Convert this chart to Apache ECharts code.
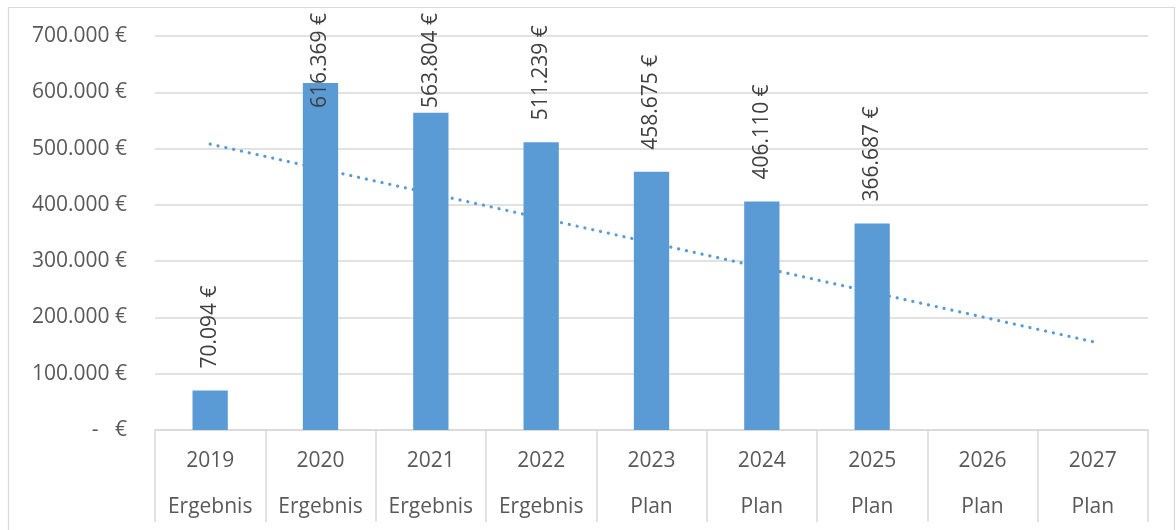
<!DOCTYPE html>
<html><head><meta charset="utf-8">
<script src="https://cdn.jsdelivr.net/npm/echarts@6/dist/echarts.min.js"></script>
<style>html,body{margin:0;padding:0;background:#fff}#c{width:1176px;height:530px}</style>
</head><body><div id="c"></div>
<script>
// ---- data ----
const years = ['2019','2020','2021','2022','2023','2024','2025','2026','2027'];
const kinds = ['Ergebnis','Ergebnis','Ergebnis','Ergebnis','Plan','Plan','Plan','Plan','Plan'];
const values = [70094, 616369, 563804, 511239, 458675, 406110, 366687, null, null];
// dotted trend line: values read at its two ends (2019 and 2027)
const trendValues = [508000, null, null, null, null, null, null, null, 157000];
const yMin = 0, yMax = 700000, yStep = 100000;

const FONT = '"Open Sans", sans-serif';
const FS = 21;
function fmt(n) {
  if (n === 0) return '-   €';
  return String(Math.round(n)).replace(/\B(?=(\d{3})+(?!\d))/g, '.') + ' €';
}

const chart = echarts.init(document.getElementById('c'), null, {renderer: 'canvas'});
const GRID = {left: 155, right: 28, top: 36, bottom: 100};
const LABEL_GAP = 22, LABEL_TOP_LIMIT = 13;

function buildBars(distances) {
  return values.map((v, i) => v == null ? null : {
    value: v,
    label: {distance: distances ? distances[i] : LABEL_GAP}
  });
}

function makeOption(distances) {
  return {
    animation: false,
    backgroundColor: '#fff',
    textStyle: {fontFamily: FONT},
    graphic: [{
      type: 'rect', silent: true, z: -1,
      shape: {x: 8.5, y: 7.5, width: 1166, height: 540},
      style: {fill: 'none', stroke: '#D9D9D9', lineWidth: 1.2}
    }],
    grid: GRID,
    xAxis: {
      type: 'category',
      data: years,
      boundaryGap: true,
      axisLine: {show: true, lineStyle: {color: '#D9D9D9', width: 1.5}},
      axisTick: {show: true, length: 92, lineStyle: {color: '#D9D9D9', width: 1.5}},
      axisLabel: {
        margin: 8, interval: 0,
        color: '#595959', fontFamily: FONT, fontSize: FS, lineHeight: 46,
        formatter: (val, idx) => val + '\n' + kinds[idx]
      },
      splitLine: {show: false}
    },
    yAxis: {
      type: 'value', min: yMin, max: yMax, interval: yStep,
      axisLine: {show: false}, axisTick: {show: false},
      axisLabel: {margin: 28, color: '#595959', fontFamily: FONT, fontSize: FS, formatter: fmt},
      splitLine: {lineStyle: {color: '#D9D9D9', width: 1.5}}
    },
    series: [{
      type: 'bar',
      data: buildBars(distances),
      barWidth: '32%',
      itemStyle: {color: '#5B9BD5'},
      label: {
        show: true, position: 'top', rotate: 90, align: 'left', verticalAlign: 'middle',
        color: '#404040', fontFamily: FONT, fontSize: FS,
        formatter: p => fmt(p.value)
      },
      z: 2
    }, {
      type: 'line',
      data: trendValues,
      connectNulls: true,
      symbol: 'none',
      silent: true,
      lineStyle: {color: '#5B9BD5', width: 3.2, type: [0.1, 7.9], cap: 'round'},
      z: 3
    }]
  };
}

chart.setOption(makeOption(null));

// keep rotated value labels inside the top of the plot (as in the reference)
const ctx = document.createElement('canvas').getContext('2d');
ctx.font = FS + 'px ' + FONT;
const distances = values.map((v, i) => {
  if (v == null) return LABEL_GAP;
  const top = chart.convertToPixel({gridIndex: 0}, [i, v])[1];
  const w = ctx.measureText(fmt(v)).width;
  const textTop = top - LABEL_GAP - w;
  return textTop < LABEL_TOP_LIMIT ? LABEL_GAP - (LABEL_TOP_LIMIT - textTop) : LABEL_GAP;
});
chart.setOption(makeOption(distances));
</script>
</body></html>
